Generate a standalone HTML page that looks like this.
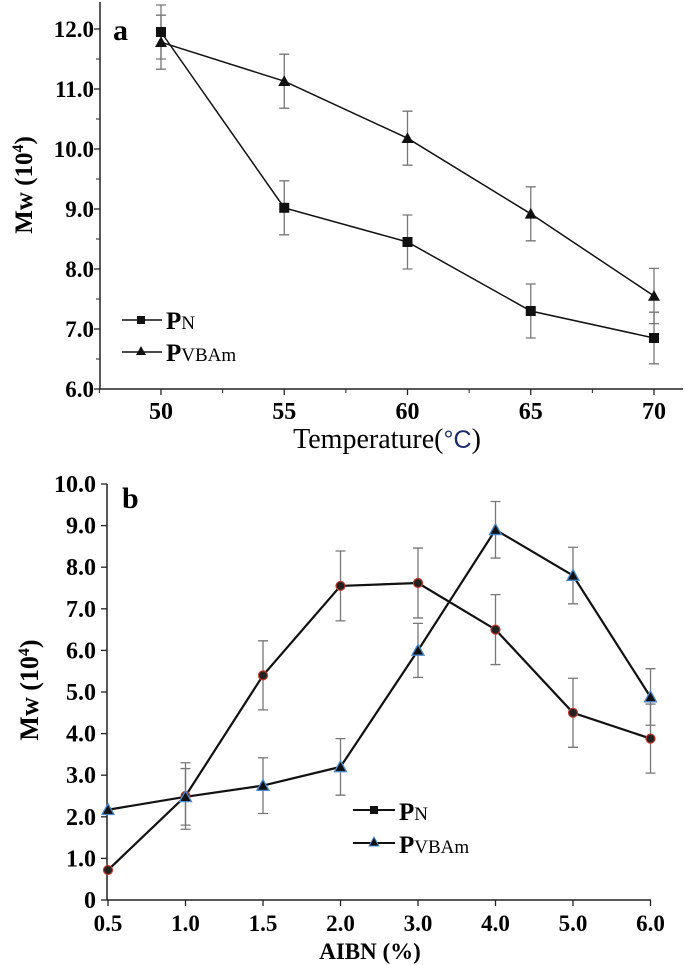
<!DOCTYPE html>
<html><head><meta charset="utf-8"><style>
body{margin:0;background:#fff}
svg{display:block;font-family:"Liberation Serif",serif}
</style></head><body>
<svg id="s" width="685" height="965" viewBox="0 0 685 965">
<g id="ga"></g>
<g id="gb"></g>
</svg>
<script>
// Chart a data
const tempCats=[50,55,60,65,70];
const aPN=[11.95,9.02,8.45,7.3,6.85];
const aPNerr=[0.45,0.45,0.45,0.45,0.43];
const aPV=[11.78,11.13,10.18,8.92,7.55];
const aPVerr=[0.45,0.45,0.45,0.45,0.46];
const aYTicks=[6,7,8,9,10,11,12];
// Chart b data
const aibnCats=["0.5","1.0","1.5","2.0","3.0","4.0","5.0","6.0"];
const bPN=[0.72,2.5,5.4,7.55,7.62,6.5,4.5,3.88];
const bPNerr=[0,0.8,0.83,0.84,0.84,0.84,0.83,0.83];
const bPV=[2.17,2.48,2.75,3.2,6.0,8.9,7.8,4.88];
const bPVerr=[0,0.68,0.67,0.68,0.65,0.68,0.68,0.68];
const bYTicks=[0,1,2,3,4,5,6,7,8,9,10];

const NS="http://www.w3.org/2000/svg";
function mk(p,t,a,txt){const e=document.createElementNS(NS,t);for(const k in a)e.setAttribute(k,a[k]);if(txt!==undefined)e.textContent=txt;p.appendChild(e);return e;}
function addSpan(t,txt,attrs){const s=document.createElementNS(NS,'tspan');for(const k in attrs)s.setAttribute(k,attrs[k]);s.textContent=txt;t.appendChild(s);return s;}

// ---- Chart a ----
const ga=document.getElementById('ga');
const ax=v=>161+(v-50)/5*123.25, ay=v=>389-(v-6)*60;
mk(ga,'line',{x1:100,y1:2,x2:100,y2:389,stroke:'#222','stroke-width':1.5});
mk(ga,'line',{x1:100,y1:389,x2:683,y2:389,stroke:'#222','stroke-width':1.5});
aYTicks.forEach(v=>{
  mk(ga,'line',{x1:94,y1:ay(v),x2:100,y2:ay(v),stroke:'#222','stroke-width':1.3});
  if(v<12) mk(ga,'line',{x1:96,y1:ay(v+0.5),x2:100,y2:ay(v+0.5),stroke:'#222','stroke-width':1});
  const t=mk(ga,'text',{x:94,y:ay(v)+8,'text-anchor':'end','font-size':23,'font-weight':'bold'},v.toFixed(1));
  
  
});
mk(ga,'line',{x1:96,y1:ay(12.5),x2:100,y2:ay(12.5),stroke:'#222','stroke-width':1});
tempCats.forEach(v=>{
  mk(ga,'line',{x1:ax(v),y1:389,x2:ax(v),y2:395,stroke:'#222','stroke-width':1.3});
  if(v<70) mk(ga,'line',{x1:ax(v+2.5),y1:389,x2:ax(v+2.5),y2:393,stroke:'#222','stroke-width':1});
  const t=mk(ga,'text',{x:ax(v),y:419,'text-anchor':'middle','font-size':24,'font-weight':'bold'},String(v));
  
  
});
mk(ga,'line',{x1:ax(47.5),y1:389,x2:ax(47.5),y2:393,stroke:'#222','stroke-width':1});
let t=mk(ga,'text',{x:387,y:448,'text-anchor':'middle','font-size':28},'Temperature(');

addSpan(t,'°C',{fill:'#1a2a6a','font-family':'Liberation Sans, sans-serif','font-size':'25'});
addSpan(t,')',{});
t=mk(ga,'text',{transform:'translate(32,185) rotate(-90)','text-anchor':'middle','font-size':25,'font-weight':'bold'},'Mw (10');
addSpan(t,'4',{dy:'-9','font-size':'16'});
addSpan(t,')',{dy:'9'});

t=mk(ga,'text',{x:113,y:40,'font-size':30,'font-weight':'bold'},'a');


function errs(g,xs,ys,es,xf,yf,cap){
  xs.forEach((c,i)=>{ if(!es[i])return;
    const x=xf(c,i),y1=yf(ys[i]+es[i]),y2=yf(ys[i]-es[i]);
    const e=mk(g,'path',{d:`M${x},${y1}V${y2}M${x-cap},${y1}H${x+cap}M${x-cap},${y2}H${x+cap}`,stroke:'#777','stroke-width':1.3,fill:'none'});
    
    
  });
}
function line(g,xs,ys,xf,yf,w){
  const p=mk(g,'polyline',{points:xs.map((c,i)=>xf(c,i)+','+yf(ys[i])).join(' '),fill:'none',stroke:'#111','stroke-width':w});
  
  
}
const tri=(x,y,s)=>`${x},${y-s} ${x-s},${y+s*0.8} ${x+s},${y+s*0.8}`;
const axf=c=>ax(c);
errs(ga,tempCats,aPN,aPNerr,axf,ay,5);
errs(ga,tempCats,aPV,aPVerr,axf,ay,5);
line(ga,tempCats,aPN,axf,ay,1.5);
line(ga,tempCats,aPV,axf,ay,1.5);
tempCats.forEach((c,i)=>{
  const r=mk(ga,'rect',{x:ax(c)-5,y:ay(aPN[i])-5,width:10,height:10,fill:'#111'});
  
  const p=mk(ga,'polygon',{points:tri(ax(c),ay(aPV[i]),6),fill:'#111'});
  
});
// legend a
mk(ga,'line',{x1:122,y1:320,x2:162,y2:320,stroke:'#111','stroke-width':1.5});
mk(ga,'rect',{x:137,y:316,width:8,height:8,fill:'#111'});
mk(ga,'line',{x1:122,y1:352,x2:162,y2:352,stroke:'#111','stroke-width':1.5});
mk(ga,'polygon',{points:tri(141,351,5),fill:'#111'});
t=mk(ga,'text',{x:166,y:329,'font-size':25,'font-weight':'bold'},'P');
addSpan(t,'N',{'font-size':'19','font-weight':'normal'});

t=mk(ga,'text',{x:166,y:361,'font-size':25,'font-weight':'bold'},'P');
addSpan(t,'VBAm',{'font-size':'19','font-weight':'normal'});


// ---- Chart b ----
const gb=document.getElementById('gb');
const bx=i=>108+i*77.5, by=v=>900-v*41.6;
mk(gb,'line',{x1:107,y1:484,x2:107,y2:900,stroke:'#222','stroke-width':1.5});
mk(gb,'line',{x1:107,y1:900,x2:651,y2:900,stroke:'#222','stroke-width':1.5});
bYTicks.forEach(v=>{
  mk(gb,'line',{x1:101,y1:by(v),x2:107,y2:by(v),stroke:'#222','stroke-width':1.3});
  const t=mk(gb,'text',{x:96,y:by(v)+8,'text-anchor':'end','font-size':24,'font-weight':'bold'},v===0?'0':v.toFixed(1));
  
  
});
aibnCats.forEach((c,i)=>{
  mk(gb,'line',{x1:bx(i),y1:900,x2:bx(i),y2:906,stroke:'#222','stroke-width':1.3});
  const t=mk(gb,'text',{x:bx(i),y:931,'text-anchor':'middle','font-size':23,'font-weight':'bold'},c);
  
  
});
t=mk(gb,'text',{x:370,y:959,'text-anchor':'middle','font-size':23,'font-weight':'bold'},'AIBN (%)');

t=mk(gb,'text',{transform:'translate(38,690) rotate(-90)','text-anchor':'middle','font-size':26,'font-weight':'bold'},'Mw (10');
addSpan(t,'4',{dy:'-9','font-size':'16'});
addSpan(t,')',{dy:'9'});

t=mk(gb,'text',{x:122,y:508,'font-size':30,'font-weight':'bold'},'b');

const bxf=(c,i)=>bx(i);
errs(gb,aibnCats,bPN,bPNerr,bxf,by,5);
errs(gb,aibnCats,bPV,bPVerr,bxf,by,5);
line(gb,aibnCats,bPN,bxf,by,2.2);
line(gb,aibnCats,bPV,bxf,by,2.2);
aibnCats.forEach((c,i)=>{
  const ci=mk(gb,'circle',{cx:bx(i),cy:by(bPN[i]),r:4.5,fill:'#222',stroke:'#c0392b','stroke-width':1.2});
  
  const p=mk(gb,'polygon',{points:tri(bx(i),by(bPV[i]),6),fill:'#111',stroke:'#4a8ad0','stroke-width':1.3});
  
});
// legend b
mk(gb,'line',{x1:353,y1:810,x2:395,y2:810,stroke:'#111','stroke-width':2});
mk(gb,'rect',{x:370,y:806,width:8,height:8,fill:'#111'});
mk(gb,'line',{x1:353,y1:843,x2:395,y2:843,stroke:'#111','stroke-width':2});
mk(gb,'polygon',{points:tri(374,842,5),fill:'#111',stroke:'#4a8ad0','stroke-width':1});
t=mk(gb,'text',{x:399,y:820,'font-size':25,'font-weight':'bold'},'P');
addSpan(t,'N',{'font-size':'19','font-weight':'normal'});

t=mk(gb,'text',{x:399,y:853,'font-size':25,'font-weight':'bold'},'P');
addSpan(t,'VBAm',{'font-size':'19','font-weight':'normal'});

</script>
</body></html>
